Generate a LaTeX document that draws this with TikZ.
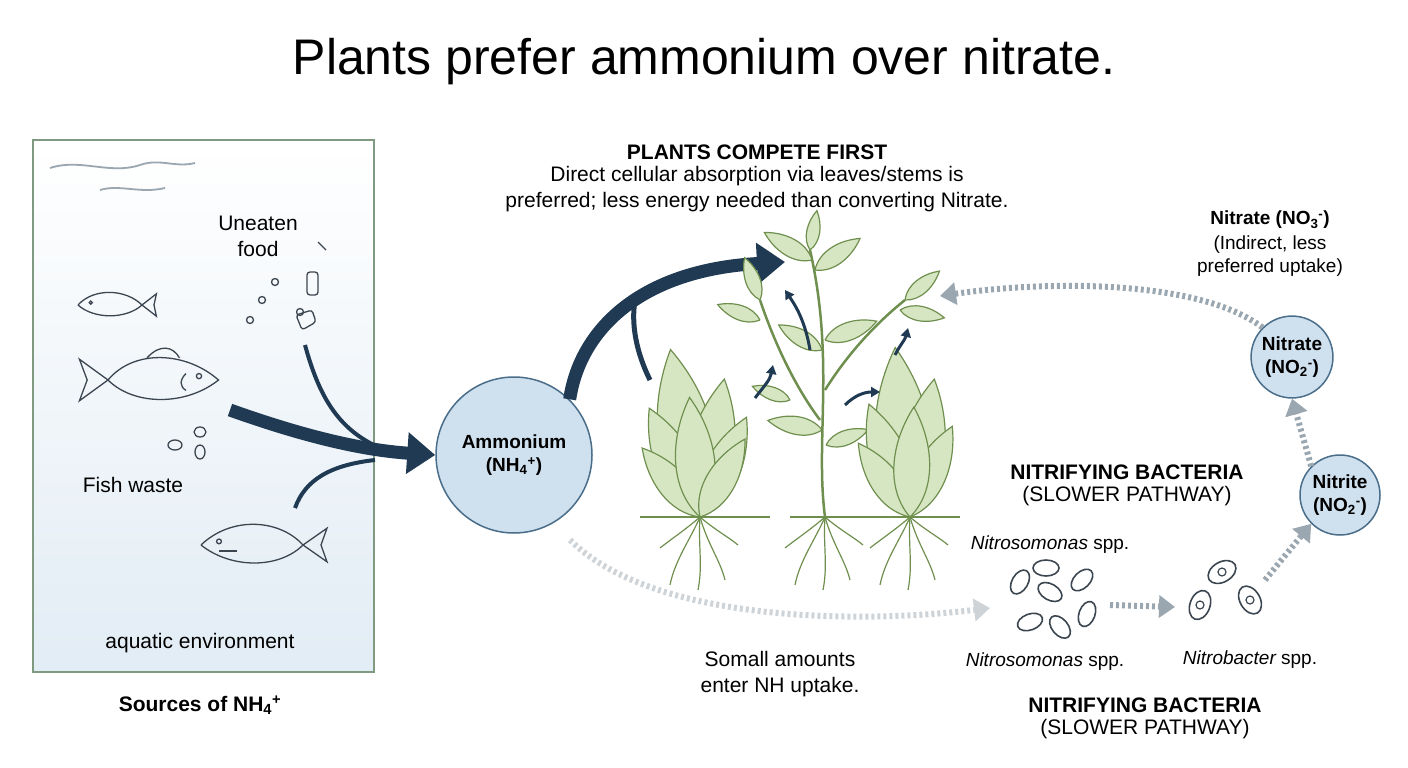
\documentclass[tikz,border=0pt]{standalone}
\usepackage{fontspec}
\setmainfont{Liberation Sans}
\usetikzlibrary{arrows.meta,shapes.geometric,positioning}
\definecolor{navy}{HTML}{1F3A52}
\definecolor{cfill}{HTML}{CFE0EE}
\definecolor{cedge}{HTML}{4A6E8A}
\definecolor{lf}{HTML}{D6E6C2}
\definecolor{le}{HTML}{6F8F4E}
\definecolor{boxe}{HTML}{7F9A80}
\definecolor{dg}{HTML}{9AA7B0}
\definecolor{ink}{HTML}{3C4650}
\newcommand{\sbp}[2]{\textsubscript{#1}\textsuperscript{#2}}
\begin{document}
\begin{tikzpicture}[x=1pt,y=-1pt,
  txt/.style={font=\fontsize{21}{26}\selectfont,align=center,text=black},
  btxt/.style={font=\fontsize{21}{26}\selectfont\bfseries,align=center},
  circ/.style={circle,fill=cfill,draw=cedge,line width=1.5pt,align=center,font=\fontsize{19}{23}\selectfont\bfseries},
  big/.style={navy,line width=13pt,-{Triangle[length=28pt,width=40pt]}},
  dots/.style={dg,line width=6pt,dash pattern=on 3pt off 3pt,-{Triangle[length=16pt,width=22pt]}},
  fishl/.style={ink,line width=1.3pt},
  bact/.style={ink,line width=1.6pt,fill=white},
  leafs/.style={draw=le,fill=lf,line width=1.2pt},
  stem/.style={le,line width=2.5pt},
  root/.style={le,line width=1.2pt},
  sarr/.style={navy,line width=3pt,-{Triangle[length=9pt,width=10pt]}},
  leaf/.pic={\path[leafs] (0,0) .. controls (15,-14) and (40,-12) .. (60,0) .. controls (40,12) and (15,14) .. (0,0);}
]
\useasboundingbox (0,0) rectangle (1408,768);
\node[font=\fontsize{50}{54}\selectfont] (title) at (704,62) {Plants prefer ammonium over nitrate.};
% left box
\shade[top color=white,bottom color=cfill!60] (33,140) rectangle (374,672);
\node[draw=boxe,line width=1.5pt,minimum width=341pt,minimum height=532pt,inner sep=0] (box) at (203.5,406) {};
\draw[dg,line width=1.8pt] (50,168) .. controls (80,158) and (110,175) .. (140,165) .. controls (160,158) and (175,168) .. (195,163);
\draw[dg,line width=1.8pt] (100,190) .. controls (120,184) and (140,194) .. (165,188);
\node[txt] (food) at (258,236) {Uneaten\\food};
% food bits
\foreach \p in {(275,282),(262,300),(300,312),(250,320)} \draw[ink,line width=1.3pt] \p circle (3.5pt);
\draw[ink,line width=1.3pt,rounded corners=3pt] (307,272) rectangle (318,295);
\draw[ink,line width=1.3pt,rounded corners=3pt] (296,315) -- (312,310) -- (316,322) -- (302,330) -- cycle;
\draw[ink,line width=1.3pt] (318,242) -- (326,250);
% fish
\begin{scope}[shift={(110,305)},scale=0.8]
\draw[fishl] (-40,0) .. controls (-20,-22) and (20,-20) .. (40,0) .. controls (20,18) and (-20,18) .. (-40,0);
\draw[fishl] (40,0) -- (58,-14) -- (55,0) -- (58,14) -- cycle; \draw[fishl] (-24,-3) circle (2pt);
\end{scope}
\begin{scope}[shift={(160,380)},scale=1.3]
\draw[fishl] (-40,0) .. controls (-20,-24) and (20,-22) .. (45,0) .. controls (20,20) and (-20,20) .. (-40,0);
\draw[fishl] (-40,0) -- (-62,-16) -- (-56,0) -- (-62,16) -- cycle; \draw[fishl] (30,-3) circle (2pt);
\draw[fishl] (-10,-17) .. controls (0,-28) and (10,-26) .. (15,-17);
\draw[fishl] (20,-5) .. controls (15,0) and (15,5) .. (20,8);
\end{scope}
\begin{scope}[shift={(255,545)},scale=1.2]
\draw[fishl] (-45,0) .. controls (-20,-24) and (20,-22) .. (40,0) .. controls (20,20) and (-20,20) .. (-45,0);
\draw[fishl] (40,0) -- (60,-14) -- (55,0) -- (60,14) -- cycle; \draw[fishl] (-30,-3) circle (2pt);
\draw[fishl] (-30,5) -- (-15,5);
\end{scope}
\draw[ink,line width=1.3pt] (175,445) ellipse (7pt and 5pt) (200,432) ellipse (6pt and 5pt) (200,452) ellipse (5pt and 7pt);
\node[txt] (waste) at (133,485) {Fish waste};
\node[txt] (aqua) at (200,643) {aquatic environment};
\node[btxt] (src) at (200,705) {Sources of NH\sbp{4}{+}};
% ammonium
\node[circ,minimum size=156pt] (amm) at (514,455) {Ammonium\\(NH\sbp{4}{+})};
\coordinate (fw) at (230,410);
\draw[big] (fw) .. controls (300,435) and (360,450) .. (amm.west);
\draw[navy,line width=4pt] (305,345) .. controls (320,400) and (340,430) .. (380,448);
\draw[navy,line width=4pt] (295,508) .. controls (305,480) and (330,465) .. (375,460);
\coordinate (pl) at (785,262);
\draw[big] (amm.north east) .. controls (580,330) and (640,270) .. (pl);
\draw[navy,line width=5pt] (635,300) .. controls (630,330) and (640,360) .. (650,380);
% text top
\node[btxt] (pcf) at (757,152) {PLANTS COMPETE FIRST};
\node[txt,below=0pt of pcf] (pcf2) {Direct cellular absorption via leaves/stems is\\preferred; less energy needed than converting Nitrate.};
% plants
\draw[le,line width=1.5pt] (640,517) -- (770,517) (790,517) -- (960,517);
% left plant
\foreach \a/\l in {100/170,115/120,80/140,65/110,130/90,95/120,60/90} \path (700,517) pic[rotate=\a,scale=\l/60] {leaf};
% center plant
\draw[stem] (825,517) .. controls (815,440) and (835,360) .. (810,250);
\draw[stem] (820,420) .. controls (790,380) and (770,330) .. (760,300);
\draw[stem] (825,390) .. controls (850,350) and (880,320) .. (905,300);
\foreach \x/\y/\a/\l in {810/250/80/40,812/260/150/55,815/270/35/55,760/300/110/45,760/320/160/45,905/300/40/45,900/310/-10/45,822/350/150/50,825/340/20/55,822/430/170/55,826/445/20/45,790/400/-200/40} \path (\x,\y) pic[rotate=\a,scale=\l/60] {leaf};
% right plant
\foreach \a/\l in {95/170,110/120,80/140,65/100,125/90,88/110} \path (910,517) pic[rotate=\a,scale=\l/60] {leaf};
% roots
\foreach \b in {700,825,910} {
 \draw[root] (\b,517) .. controls (\b-10,540) and (\b-25,560) .. (\b-30,585);
 \draw[root] (\b,517) .. controls (\b+8,545) and (\b+20,560) .. (\b+25,580);
 \draw[root] (\b,517) .. controls (\b-2,545) and (\b+3,565) .. (\b-2,590);
 \draw[root] (\b,517) .. controls (\b-15,530) and (\b-30,540) .. (\b-40,548);
 \draw[root] (\b,517) .. controls (\b+15,530) and (\b+30,538) .. (\b+38,545);}
\draw[sarr] (810,350) .. controls (805,320) and (795,305) .. (785,290);
\draw[sarr] (755,398) .. controls (765,385) and (770,380) .. (773,365);
\draw[sarr] (845,405) .. controls (855,395) and (865,392) .. (880,392);
\draw[sarr] (895,355) .. controls (900,345) and (905,340) .. (908,328);
% right side
\node[btxt,font=\fontsize{19}{23}\selectfont\bfseries] (nt) at (1270,220) {Nitrate (NO\sbp{3}{-})};
\node[txt,font=\fontsize{19}{23}\selectfont,below=0pt of nt] (nt2) {(Indirect, less\\preferred uptake)};
\node[circ,minimum size=80pt] (nate) at (1292,357) {Nitrate\\(NO\sbp{2}{-})};
\node[circ,minimum size=80pt] (nite) at (1340,495) {Nitrite\\(NO\sbp{2}{-})};
\coordinate (pr) at (940,296);
\draw[dots] (nate.north west) .. controls (1200,280) and (1050,280) .. (pr);
\draw[dots] (nite.north west) -- (nate.south);
\node[btxt] (nb1) at (1127,472) {NITRIFYING BACTERIA};
\node[txt,below=0pt of nb1] (nb1b) {(SLOWER PATHWAY)};
\node[txt,font=\fontsize{19}{23}\selectfont] (ns1) at (1050,545) {\itshape Nitrosomonas\upshape\ spp.};
\foreach \x/\y/\a in {1020/582/60,1050/592/-30,1082/580/45,1030/622/20,1060/627/-50,1087/614/70,1046/568/0}
  \draw[bact,rotate around={\a:(\x,\y)}] (\x,\y) ellipse (13pt and 8pt);
\foreach \x/\y/\a in {1200/605/70,1222/572/30,1250/600/-60}
  {\draw[bact,rotate around={\a:(\x,\y)}] (\x,\y) ellipse (15pt and 10pt); \draw[ink,line width=1.2pt] (\x,\y) circle (4pt);}
\draw[dots] (1110,605) -- (1175,607);
\draw[dots] (1265,580) -- (nite.south west);
\coordinate (amb) at (570,540);
\draw[dots,dg!50] (amb) .. controls (650,620) and (850,625) .. (990,608);
\node[txt,font=\fontsize{19}{23}\selectfont] (ns2) at (1045,662) {\itshape Nitrosomonas\upshape\ spp.};
\node[txt,font=\fontsize{19}{23}\selectfont] (nb) at (1250,660) {\itshape Nitrobacter\upshape\ spp.};
\node[txt] (small) at (780,674) {Somall amounts\\enter NH uptake.};
\node[btxt] (nb2) at (1145,705) {NITRIFYING BACTERIA};
\node[txt,below=0pt of nb2] (nb2b) {(SLOWER PATHWAY)};
\end{tikzpicture}
\end{document}
